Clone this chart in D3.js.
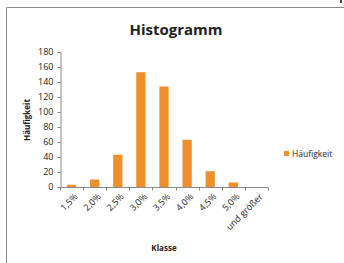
<!DOCTYPE html>
<meta charset="utf-8">
<head>
<script src="https://cdn.jsdelivr.net/npm/d3@7"></script>
<style>
  body { margin: 0; background: #fff; }
  text { font-family: "Open Sans", "Liberation Sans", sans-serif; fill: #222; }
</style>
</head>
<body>
<script>
"use strict";
var classes = ["1,5%", "2,0%", "2,5%", "3,0%", "3,5%", "4,0%", "4,5%", "5,0%", "und größer"];
var counts = [3, 10, 43, 153, 134, 63, 21, 6, 0];
var yTicks = [0, 20, 40, 60, 80, 100, 120, 140, 160, 180];

var width = 344, height = 263;
var svg = d3.select("body").append("svg")
    .attr("width", width)
    .attr("height", height);

// chart frame
svg.append("path")
    .attr("d", "M6.5,263V7.5H344")
    .attr("fill", "none")
    .attr("stroke", "#8a8a8a")
    .attr("stroke-width", 1);
// small mark at the top right corner of the screenshot
svg.append("rect")
    .attr("x", 340).attr("y", 0)
    .attr("width", 2).attr("height", 3)
    .attr("fill", "#444");

var x = d3.scaleBand().domain(classes).range([60, 268]).paddingInner(0.6).paddingOuter(0.3);
var y = d3.scaleLinear().domain([0, 180]).range([187, 52]);

svg.append("text")
    .attr("x", 176).attr("y", 35)
    .attr("text-anchor", "middle")
    .style("font-size", "15px").style("font-weight", "bold")
    .text("Histogramm");

// y axis
var yAxis = svg.append("g")
    .attr("transform", "translate(60.5,0)")
    .call(d3.axisLeft(y).tickValues(yTicks).tickSize(3).tickPadding(4));
yAxis.selectAll("text").style("font-size", "9px");

// bars
svg.selectAll("rect.bar")
    .data(counts)
    .enter().append("rect")
    .attr("class", "bar")
    .attr("x", (d, i) => x(classes[i]))
    .attr("width", x.bandwidth())
    .attr("y", d => y(d))
    .attr("height", d => y(0) - y(d))
    .attr("fill", "#ee8f2b");

// x axis
var xAxis = svg.append("g")
    .attr("transform", "translate(0," + (y(0) + 0.5) + ")");
xAxis.append("line")
    .attr("x1", 60).attr("x2", 268)
    .attr("stroke", "#8a8a8a");
xAxis.selectAll("line.tick")
    .data(d3.range(classes.length + 1))
    .enter().append("line")
    .attr("x1", i => Math.round(60 + i * (208 / classes.length)) + 0.5)
    .attr("x2", i => Math.round(60 + i * (208 / classes.length)) + 0.5)
    .attr("y1", 0).attr("y2", 3)
    .attr("stroke", "#8a8a8a");
xAxis.selectAll("text")
    .data(classes)
    .enter().append("text")
    .attr("transform", d => "translate(" + (x(d) + x.bandwidth() / 2 + 3) + ",6) rotate(-45)")
    .attr("text-anchor", "end")
    .attr("dy", "0.6em")
    .style("font-size", "9px")
    .text(d => d);
yAxis.select(".domain").attr("stroke", "#8a8a8a");
yAxis.selectAll(".tick line").attr("stroke", "#8a8a8a");

svg.append("text")
    .attr("transform", "translate(30,120) rotate(-90)")
    .attr("text-anchor", "middle")
    .style("font-size", "8px").style("font-weight", "bold")
    .text("Häufigkeit");

svg.append("text")
    .attr("x", 164).attr("y", 251)
    .attr("text-anchor", "middle")
    .style("font-size", "8px").style("font-weight", "bold")
    .text("Klasse");

// legend
svg.append("rect")
    .attr("x", 284).attr("y", 151)
    .attr("width", 5).attr("height", 5)
    .attr("fill", "#ee8f2b");
svg.append("text")
    .attr("x", 292).attr("y", 157)
    .style("font-size", "8.5px")
    .text("Häufigkeit");
</script>
</body>
